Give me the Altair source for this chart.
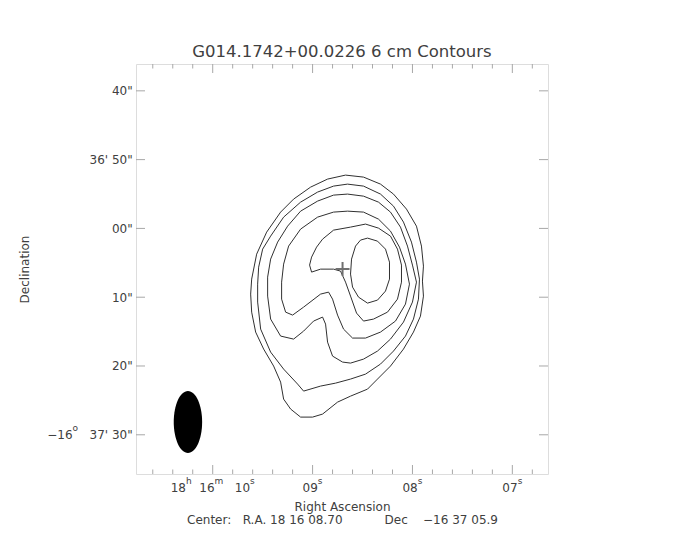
import altair as alt
import pandas as pd

# ---------------- data (RA in seconds of 18h16m, Dec in arcsec offset from -16d37'00") ----
c1_ra = [8.67, 8.49, 8.32, 8.19, 8.06, 7.96, 7.91, 7.89, 7.90, 7.89, 7.92, 7.99, 8.09, 8.22, 8.35, 8.45,
         8.62, 8.75, 8.90, 9.00, 9.12, 9.22, 9.29, 9.32, 9.39, 9.49, 9.57, 9.61, 9.62, 9.61, 9.56, 9.46,
         9.32, 9.19, 9.02, 8.85]
c1_dec = [7.75, 7.46, 6.44, 4.99, 2.81, 0.33, -2.57, -5.48, -7.66, -9.84, -12.75, -15.07, -17.54, -20.01,
          -21.90, -23.36, -24.38, -25.25, -26.99, -27.43, -27.43, -26.26, -24.81, -22.34, -20.01, -17.54,
          -15.07, -12.17, -9.55, -7.37, -3.74, -0.54, 2.37, 4.26, 6.00, 7.17]

c2_ra = [8.65, 8.49, 8.32, 8.19, 8.09, 8.01, 7.96, 7.93, 7.94, 7.99, 8.07, 8.19, 8.32, 8.47, 8.62, 8.77,
         8.92, 9.09, 9.15, 9.29, 9.42, 9.52, 9.55, 9.55, 9.54, 9.50, 9.42, 9.29, 9.12, 8.95, 8.79]
c2_dec = [6.44, 6.15, 4.99, 3.24, 0.92, -1.99, -4.90, -7.37, -10.28, -13.18, -15.65, -17.83, -19.72,
          -21.18, -21.90, -22.49, -22.92, -23.65, -22.63, -20.45, -17.98, -14.64, -10.71, -8.10, -5.63,
          -3.01, -1.12, 1.64, 3.82, 5.28, 6.15]

c3_ra = [8.65, 8.49, 8.34, 8.22, 8.12, 8.05, 8.00, 7.96, 8.00, 8.09, 8.22, 8.35, 8.49, 8.62, 8.70, 8.80,
         8.85, 8.87, 8.90, 8.99, 9.09, 9.19, 9.32, 9.42, 9.45, 9.45, 9.42, 9.35, 9.25, 9.12, 8.95, 8.79]
c3_dec = [4.99, 4.69, 3.82, 2.37, 0.19, -2.57, -5.33, -7.81, -10.71, -13.62, -16.09, -17.83, -19.00,
          -19.58, -19.43, -18.56, -16.53, -13.91, -12.89, -13.47, -14.93, -16.09, -15.65, -13.18, -9.84,
          -7.08, -4.46, -1.99, 0.33, 2.51, 3.97, 4.84]

c4_ra = [8.65, 8.49, 8.34, 8.22, 8.13, 8.07, 8.03, 8.07, 8.17, 8.32, 8.47, 8.60, 8.69, 8.75, 8.80, 8.84,
         8.92, 9.09, 9.20, 9.27, 9.31, 9.31, 9.29, 9.24, 9.12, 8.95, 8.79]
c4_dec = [2.51, 2.37, 1.35, -0.39, -2.72, -5.19, -8.10, -11.00, -13.47, -15.07, -15.94, -15.94, -14.64,
          -12.60, -10.28, -9.26, -9.55, -11.44, -12.60, -12.17, -10.28, -7.81, -5.19, -2.57, -0.10,
          1.64, 2.37]

c5_ra = [8.47, 8.34, 8.22, 8.15, 8.11, 8.11, 8.15, 8.25, 8.39, 8.49, 8.56, 8.62, 8.67, 8.72, 8.79, 8.92,
         9.01, 9.03, 9.01, 8.96, 8.90, 8.79, 8.62]
c5_dec = [0.63, 0.04, -1.12, -3.01, -5.33, -7.81, -10.28, -12.17, -13.18, -13.47, -12.31, -9.84, -7.81,
          -6.21, -5.92, -5.92, -6.35, -5.33, -4.17, -2.72, -1.56, -0.25, 0.19]

c6_ra = [8.45, 8.35, 8.27, 8.23, 8.23, 8.27, 8.35, 8.45, 8.54, 8.60, 8.62, 8.61, 8.57, 8.52]
c6_dec = [-1.41, -1.85, -3.01, -4.90, -7.37, -9.11, -10.42, -10.86, -9.99, -8.53, -6.64, -4.46, -2.57, -1.70]

center_ra = [8.70]
center_dec = [-5.9]
beam_ra = [10.248]
beam_dec = [-28.15]

NB = "\u00a0"
ra_major = [10, 9, 8, 7]
# each label: list of (text, "n" normal | "s" superscript)
ra_labels = [
    [("18", "n"), ("h", "s"), (NB * 2 + "16", "n"), ("m", "s"), (NB * 3 + "10", "n"), ("s", "s")],
    [("09", "n"), ("s", "s")],
    [("08", "n"), ("s", "s")],
    [("07", "n"), ("s", "s")],
]
ra_minor = [10.6, 10.4, 10.2, 9.8, 9.6, 9.4, 9.2, 8.8, 8.6, 8.4, 8.2, 7.8, 7.6, 7.4, 7.2, 6.8]
dec_major = [20, 10, 0, -10, -20, -30]
dec_labels = [
    [('40"', "n")],
    [("36'" + NB + '50"', "n")],
    [('00"', "n")],
    [('10"', "n")],
    [('20"', "n")],
    [("\u221216", "n"), ("o", "s"), (NB * 3 + "37'" + NB + '30"', "n")],
]

title_text = "G014.1742+00.0226 6 cm Contours"
x_title = ["Right Ascension",
           "Center:" + NB * 3 + "R.A. 18 16 08.70" + NB * 11 + "Dec" + NB * 4 + "\u221216 37 05.9"]
y_title = "Declination"

# ---------------- build ----------------
contours = [(c1_ra, c1_dec), (c2_ra, c2_dec), (c3_ra, c3_dec), (c4_ra, c4_dec), (c5_ra, c5_dec), (c6_ra, c6_dec)]
rows = []
for cid, (ras, decs) in enumerate(contours):
    pts = list(zip(ras, decs)) + [(ras[0], decs[0])]
    for i, (r, d) in enumerate(pts):
        rows.append({"c": cid, "i": i, "ra": r, "dec": d})
df = pd.DataFrame(rows)

W, H = 412, 410
FRAME = "#a8a8a8"
TEXT = "#404040"
FONT = "DejaVu Sans"
FS, FS_SUP = 12, 9

# approximate DejaVu Sans advance widths (em units) for laying out superscripts
CW = {c: 0.636 for c in "0123456789"}
CW.update({" ": 0.318, NB: 0.318, "'": 0.275, '"': 0.401, "\u2212": 0.838, "h": 0.634,
           "m": 0.974, "s": 0.521, "o": 0.612, ".": 0.318})


def text_w(t, size):
    return sum(CW.get(ch, 0.6) for ch in t) * size


def piece_size(kind):
    return FS if kind == "n" else FS_SUP


xs = alt.Scale(domain=[6.643, 10.768], reverse=True, nice=False, zero=False)
ys = alt.Scale(domain=[-35.7, 23.9], nice=False, zero=False)

x_axis = alt.Axis(
    values=ra_major, labels=False, ticks=False, domain=False, grid=False,
    title=x_title, titleFontSize=FS, titleFontWeight="normal", titleColor=TEXT, titleFont=FONT,
    titlePadding=27, titleLineHeight=13)
y_axis = alt.Axis(
    values=dec_major, labels=False, ticks=False, domain=False, grid=False,
    title=y_title, titleFontSize=FS, titleFontWeight="normal", titleColor=TEXT, titleFont=FONT,
    titleX=-112, titleY=H / 2, titleAngle=270, titleAlign="center", titleBaseline="middle")


def X():
    return alt.X("ra:Q", scale=xs, axis=x_axis)


def Y():
    return alt.Y("dec:Q", scale=ys, axis=y_axis)


contour_layer = alt.Chart(df).mark_line(color="#303030", strokeWidth=1).encode(
    x=X(), y=Y(), detail="c:N", order="i:Q")

maj_x = pd.DataFrame({"ra": ra_major})
min_x = pd.DataFrame({"ra": ra_minor})
maj_y = pd.DataFrame({"dec": dec_major})


def xticks(data, y0, y1):
    return alt.Chart(data).mark_rule(color=FRAME, strokeWidth=1).encode(
        x=X(), y=alt.value(y0), y2=alt.value(y1))


def yticks(data, x0, x1):
    return alt.Chart(data).mark_rule(color=FRAME, strokeWidth=1).encode(
        y=Y(), x=alt.value(x0), x2=alt.value(x1))


layers = [contour_layer,
          xticks(maj_x, H, H - 9), xticks(maj_x, 0, 9),
          xticks(min_x, H, H - 4.5), xticks(min_x, 0, 4.5),
          yticks(maj_y, 0, 9), yticks(maj_y, W, W - 9)]


def split_lead(t):
    s = t.lstrip(NB)
    return t[:len(t) - len(s)], s


# --- RA tick labels (centred under the tick, superscripts raised) ---
for val, parts in zip(ra_major, ra_labels):
    total = sum(text_w(t, piece_size(k)) for t, k in parts)
    cur = -total / 2
    for t, k in parts:
        lead, body = split_lead(t)
        cur += text_w(lead, piece_size(k))
        layers.append(
            alt.Chart(pd.DataFrame({"ra": [val], "t": [body]})).mark_text(
                align="left", baseline="alphabetic", dx=cur, fontSize=piece_size(k),
                font=FONT, color=TEXT
            ).encode(x=X(), y=alt.value(H + 18 if k == "n" else H + 9.5), text="t:N"))
        cur += text_w(body, piece_size(k))

# --- Dec tick labels (right-aligned left of the frame) ---
for val, parts in zip(dec_major, dec_labels):
    total = sum(text_w(t, piece_size(k)) for t, k in parts)
    cur = -4 - total
    for t, k in parts:
        lead, body = split_lead(t)
        cur += text_w(lead, piece_size(k))
        layers.append(
            alt.Chart(pd.DataFrame({"dec": [val], "t": [body]})).mark_text(
                align="left", baseline="alphabetic", dy=4.4 if k == "n" else -4.0,
                fontSize=piece_size(k), font=FONT, color=TEXT
            ).encode(y=Y(), x=alt.value(cur), text="t:N"))
        cur += text_w(body, piece_size(k))

cross = alt.Chart(pd.DataFrame({"ra": center_ra, "dec": center_dec})).mark_point(
    shape="M-1,0L1,0M0,-1L0,1", size=196, strokeWidth=2, color="#707070", filled=False, opacity=1
).encode(x=X(), y=Y())

beam = alt.Chart(pd.DataFrame({"ra": beam_ra, "dec": beam_dec})).mark_point(
    shape="M0,-1A0.458,1 0 1,1 0,1A0.458,1 0 1,1 0,-1Z", size=3844, filled=True,
    color="black", opacity=1, strokeWidth=0
).encode(x=X(), y=Y())

layers += [cross, beam]

chart = alt.layer(*layers).properties(
    width=W, height=H,
    title=alt.TitleParams(title_text, fontSize=16.5, fontWeight="normal", color=TEXT, font=FONT,
                          anchor="middle", offset=3),
    autosize=alt.AutoSizeParams(type="none"),
    padding={"left": 128, "top": 56, "right": 128, "bottom": 58},
).configure_view(stroke=FRAME, strokeWidth=1).configure(background="white")

chart.save("out.html", embed_options={"renderer": "svg", "actions": False})
